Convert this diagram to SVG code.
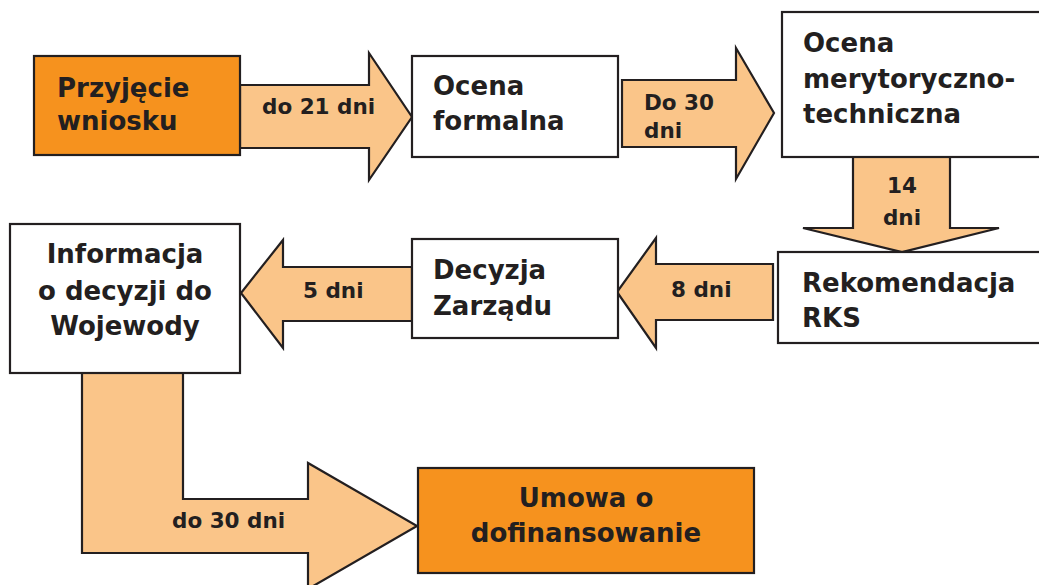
<svg xmlns="http://www.w3.org/2000/svg" width="1039" height="585" viewBox="0 0 1039 585">
<style>
.box{stroke:#231f20;stroke-width:2.2}
.w{fill:#ffffff}
.o{fill:#f6921e}
.arr{fill:#fac589;stroke:#231f20;stroke-width:2.2;stroke-linejoin:miter}
.t{font-family:"DejaVu Sans",Verdana,sans-serif;font-weight:bold;font-size:26px;fill:#231f20}
.l{font-family:"DejaVu Sans",Verdana,sans-serif;font-weight:bold;font-size:21.5px;fill:#231f20}
.c{text-anchor:middle}
</style>
<rect width="1039" height="585" fill="#ffffff"/>
<g id="connectors">
<polygon class="arr" points="240,85 369,85 369,53 412,117 369,180 369,148 240,148"/>
<polygon class="arr" points="622,80 736,80 736,48 774,113 736,179 736,147 622,147"/>
<polygon class="arr" points="853,157 950,157 950,228 999,228 902,252 803,228 853,228"/>
<polygon class="arr" points="773,264 656,264 656,238 617,292 656,348 656,320 773,320"/>
<polygon class="arr" points="412,267 283,267 283,240 241,293 283,348 283,321 412,321"/>
<polygon class="arr" points="82,373 183,373 183,499 308,499 308,463 417,526 308,589 308,553 82,553"/>
<text class="l" x="262" y="114">do 21 dni</text>
<text class="l" x="644" y="110">Do 30</text>
<text class="l" x="644" y="138">dni</text>
<text class="l c" x="902" y="193">14</text>
<text class="l c" x="902" y="225">dni</text>
<text class="l" x="671" y="297">8 dni</text>
<text class="l" x="303" y="298">5 dni</text>
<text class="l" x="172" y="528">do 30 dni</text>
</g>
<g id="n1">
<rect class="box o" x="34" y="56" width="206" height="99"/>
<text class="t" x="57" y="97">Przyjęcie</text>
<text class="t" x="57" y="130">wniosku</text>
</g>
<g id="n2">
<rect class="box w" x="412" y="56" width="206" height="101"/>
<text class="t" x="433" y="95">Ocena</text>
<text class="t" x="433" y="130">formalna</text>
</g>
<g id="n3">
<rect class="box w" x="782" y="12" width="270" height="145"/>
<text class="t" x="803" y="52">Ocena</text>
<text class="t" x="803" y="88">merytoryczno-</text>
<text class="t" x="803" y="123">techniczna</text>
</g>
<g id="n4">
<rect class="box w" x="778" y="252" width="270" height="91"/>
<text class="t" x="802" y="292">Rekomendacja</text>
<text class="t" x="802" y="327">RKS</text>
</g>
<g id="n5">
<rect class="box w" x="412" y="239" width="206" height="99"/>
<text class="t" x="433" y="279">Decyzja</text>
<text class="t" x="433" y="315">Zarządu</text>
</g>
<g id="n6">
<rect class="box w" x="10" y="224" width="230" height="149"/>
<text class="t c" x="125" y="263">Informacja</text>
<text class="t c" x="125" y="300">o decyzji do</text>
<text class="t c" x="125" y="335">Wojewody</text>
</g>
<g id="n7">
<rect class="box o" x="418" y="468" width="336" height="105"/>
<text class="t c" x="586" y="507">Umowa o</text>
<text class="t c" x="586" y="542">dofinansowanie</text>
</g>
</svg>
